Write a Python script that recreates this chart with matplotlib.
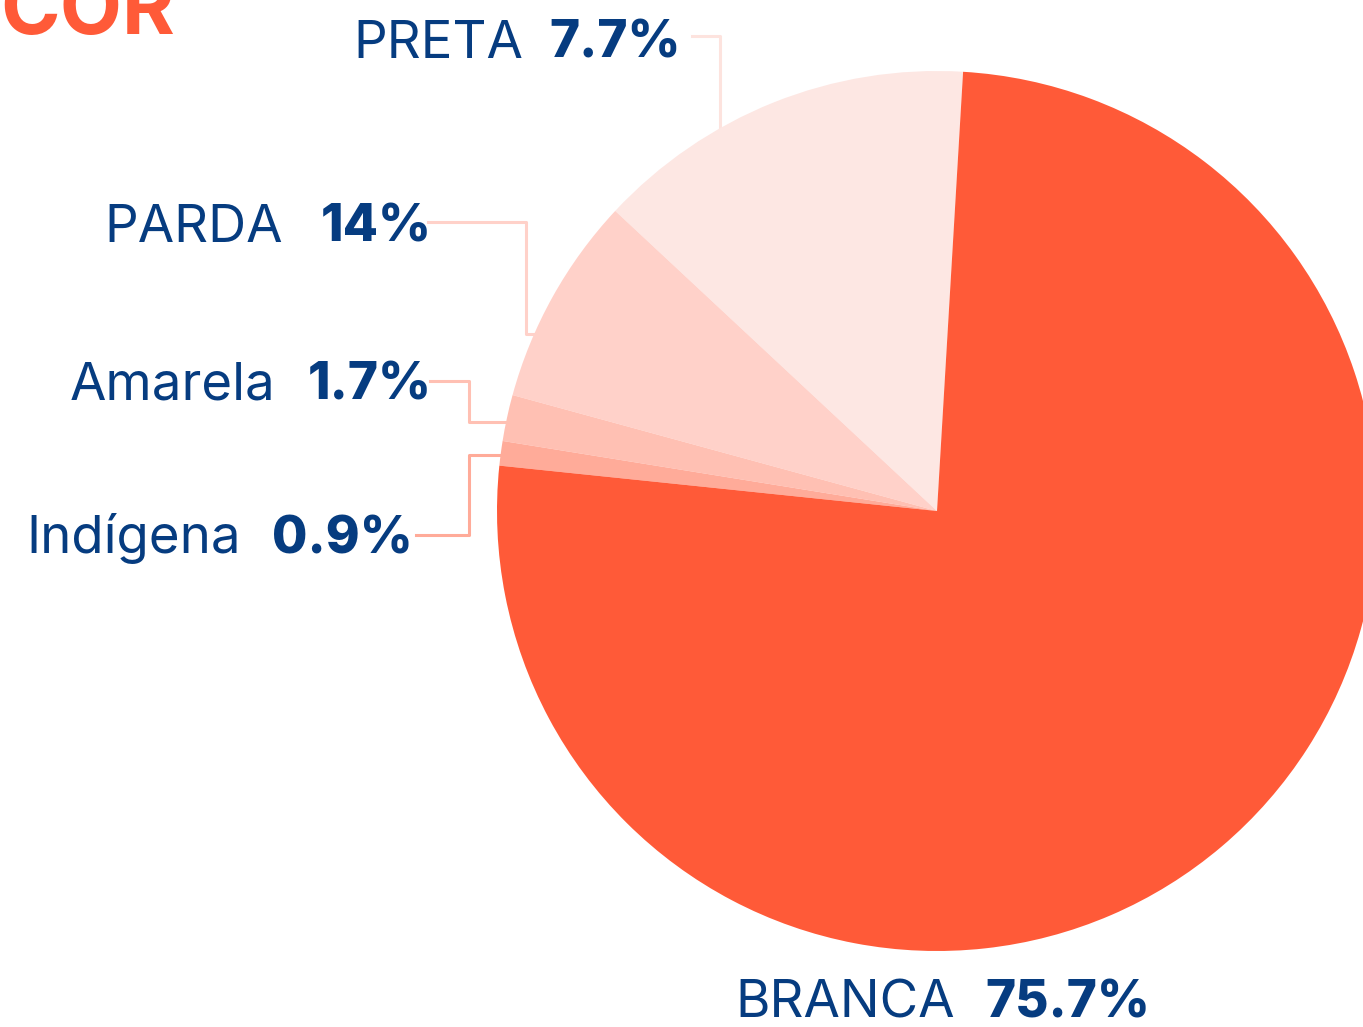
import matplotlib.pyplot as plt

# dados (ordem dos setores no sentido anti-horario a partir do topo)
slice_values = [14, 7.7, 1.7, 0.9, 75.7]
slice_colors = ['#FDE7E3', '#FFD1C9', '#FFC0B3', '#FFAB99', '#FF5A38']

# rotulos como aparecem na imagem
label_names = ['PRETA', 'PARDA', 'Amarela', 'Indígena', 'BRANCA']
label_pcts = ['7.7%', '14%', '1.7%', '0.9%', '75.7%']

H = 1027
navy = '#063C80'

fig = plt.figure(figsize=(13.63, 10.27), dpi=100)
ax = fig.add_axes([0, 0, 1, 1])

ax.pie(slice_values, colors=slice_colors, startangle=86.6, counterclock=True,
       center=(937, H - 511), radius=440,
       wedgeprops=dict(linewidth=0))
ax.set_xlim(0, 1363)
ax.set_ylim(0, H)
ax.set_aspect('equal')
ax.axis('off')

# posicoes dos rotulos em pixels (x fim do nome, x fim do %, linha de base)
label_pos = [(523, 681, 58), (283, 432, 242), (275, 432, 400),
             (241, 413, 553), (955, 1150, 1018)]
for name, pct, (xn, xp, yb) in zip(label_names, label_pcts, label_pos):
    ax.text(xn, H - yb, name, ha='right', va='baseline', fontsize=38,
            family='Inter', color=navy)
    ax.text(xp, H - yb, pct, ha='right', va='baseline', fontsize=37,
            family='Inter', fontweight='heavy', color=navy)

# linhas de chamada
leaders = [
    ([692, 720, 720], [36, 36, 130], '#FDE3DE'),
    ([428, 526, 526, 533], [222, 222, 334, 334], '#FFD1C9'),
    ([430, 469, 469, 510], [381, 381, 422, 422], '#FFC0B3'),
    ([416, 469, 469, 500], [535, 535, 455, 455], '#FFAB99'),
]
for xs, ys, c in leaders:
    ax.plot(xs, [H - y for y in ys], color=c, lw=2.2, zorder=0)

ax.text(0, H - 34, 'COR', ha='left', va='baseline', fontsize=58,
        family='Inter', fontweight='bold', color='#FF5A38')

fig.savefig('out.png', dpi=100)
